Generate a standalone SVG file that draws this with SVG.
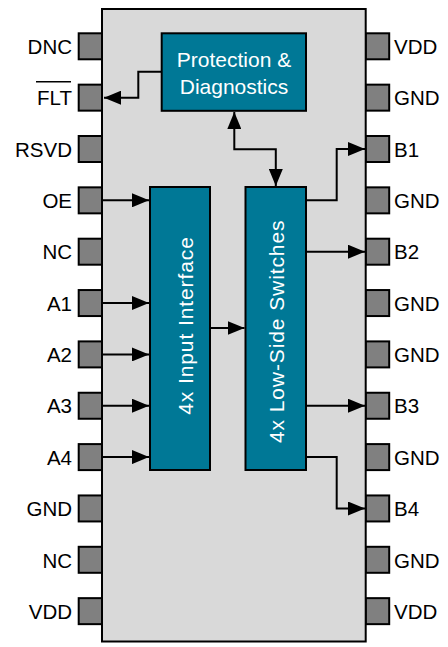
<svg xmlns="http://www.w3.org/2000/svg" width="448" height="647" viewBox="0 0 448 647">
  <style>
    .body { fill: #D9D9D9; stroke: #000; stroke-width: 2; }
    .pin { fill: #808080; stroke: #000; stroke-width: 2; }
    .blk { fill: #007896; stroke: #000; stroke-width: 2; }
    .lbl { font-family: "Liberation Sans", Arial, sans-serif; font-size: 20.5px; fill: #000; }
    .lbl-l { text-anchor: end; }
    .blkt { font-family: "Liberation Sans", Arial, sans-serif; font-size: 21px; fill: #fff; text-anchor: middle; }
    .rot { letter-spacing: 0.9px; }
    .wire { fill: none; stroke: #000; stroke-width: 2; }
  </style>
  <defs>
    <marker id="ah" markerUnits="userSpaceOnUse" markerWidth="18" markerHeight="14" refX="17" refY="7" orient="auto-start-reverse" viewBox="0 0 18 14">
      <path d="M0,0 L17,7 L0,14 z" fill="#000"/>
    </marker>
  </defs>

  <g id="pins-left">
    <rect class="pin" x="78.7" y="33.3" width="23.3" height="26"/>
    <rect class="pin" x="78.7" y="84.65" width="23.3" height="26"/>
    <rect class="pin" x="78.7" y="136" width="23.3" height="26"/>
    <rect class="pin" x="78.7" y="187.35" width="23.3" height="26"/>
    <rect class="pin" x="78.7" y="238.7" width="23.3" height="26"/>
    <rect class="pin" x="78.7" y="290.05" width="23.3" height="26"/>
    <rect class="pin" x="78.7" y="341.4" width="23.3" height="26"/>
    <rect class="pin" x="78.7" y="392.75" width="23.3" height="26"/>
    <rect class="pin" x="78.7" y="444.1" width="23.3" height="26"/>
    <rect class="pin" x="78.7" y="495.45" width="23.3" height="26"/>
    <rect class="pin" x="78.7" y="546.8" width="23.3" height="26"/>
    <rect class="pin" x="78.7" y="598.15" width="23.3" height="26"/>
  </g>
  <g id="pins-right">
    <rect class="pin" x="365.7" y="33.3" width="23.5" height="26"/>
    <rect class="pin" x="365.7" y="84.65" width="23.5" height="26"/>
    <rect class="pin" x="365.7" y="136" width="23.5" height="26"/>
    <rect class="pin" x="365.7" y="187.35" width="23.5" height="26"/>
    <rect class="pin" x="365.7" y="238.7" width="23.5" height="26"/>
    <rect class="pin" x="365.7" y="290.05" width="23.5" height="26"/>
    <rect class="pin" x="365.7" y="341.4" width="23.5" height="26"/>
    <rect class="pin" x="365.7" y="392.75" width="23.5" height="26"/>
    <rect class="pin" x="365.7" y="444.1" width="23.5" height="26"/>
    <rect class="pin" x="365.7" y="495.45" width="23.5" height="26"/>
    <rect class="pin" x="365.7" y="546.8" width="23.5" height="26"/>
    <rect class="pin" x="365.7" y="598.15" width="23.5" height="26"/>
  </g>

  <g id="package">
    <rect class="body" x="102" y="9" width="263.7" height="632.5"/>
  </g>

  <g id="labels-left" class="lbl lbl-l">
    <text x="72" y="54">DNC</text>
    <text x="72" y="105.4">FLT</text>
    <text x="72" y="156.7">RSVD</text>
    <text x="72" y="208">OE</text>
    <text x="72" y="259.4">NC</text>
    <text x="72" y="310.7">A1</text>
    <text x="72" y="362.1">A2</text>
    <text x="72" y="413.4">A3</text>
    <text x="72" y="464.8">A4</text>
    <text x="72" y="516.1">GND</text>
    <text x="72" y="567.5">NC</text>
    <text x="72" y="618.8">VDD</text>
  </g>
  <line x1="36" y1="81.7" x2="71" y2="81.7" stroke="#000" stroke-width="1.5"/>
  <g id="labels-right" class="lbl">
    <text x="394" y="54">VDD</text>
    <text x="394" y="105.4">GND</text>
    <text x="394" y="156.7">B1</text>
    <text x="394" y="208">GND</text>
    <text x="394" y="259.4">B2</text>
    <text x="394" y="310.7">GND</text>
    <text x="394" y="362.1">GND</text>
    <text x="394" y="413.4">B3</text>
    <text x="394" y="464.8">GND</text>
    <text x="394" y="516.1">B4</text>
    <text x="394" y="567.5">GND</text>
    <text x="394" y="618.8">VDD</text>
  </g>

  <g id="protection">
    <rect class="blk" x="161.7" y="33.3" width="144.3" height="77.5"/>
    <text class="blkt" x="234" y="66.5">Protection &amp;</text>
    <text class="blkt" x="234" y="93.5">Diagnostics</text>
  </g>
  <g id="input-interface">
    <rect class="blk" x="150" y="187" width="60" height="283"/>
    <text class="blkt rot" transform="translate(192.5,325.5) rotate(-90)" x="0" y="0">4x Input Interface</text>
  </g>
  <g id="low-side-switches">
    <rect class="blk" x="245.5" y="187" width="60.5" height="283"/>
    <text class="blkt rot" transform="translate(284,331.3) rotate(-90)" x="0" y="0">4x Low-Side Switches</text>
  </g>

  <g id="connectors">
    <path class="wire" d="M161.7,71.7 H138.3 V97.7 H104" marker-end="url(#ah)"/>
    <path class="wire" d="M234.3,112 V149.3 H275.8 V186" marker-start="url(#ah)" marker-end="url(#ah)"/>
    <path class="wire" d="M103,200.3 H149" marker-end="url(#ah)"/>
    <path class="wire" d="M103,303 H149" marker-end="url(#ah)"/>
    <path class="wire" d="M103,354.4 H149" marker-end="url(#ah)"/>
    <path class="wire" d="M103,405.7 H149" marker-end="url(#ah)"/>
    <path class="wire" d="M103,457.1 H149" marker-end="url(#ah)"/>
    <path class="wire" d="M211,328 H244.5" marker-end="url(#ah)"/>
    <path class="wire" d="M306,200.3 H336.7 V149 H365" marker-end="url(#ah)"/>
    <path class="wire" d="M306,251.7 H365" marker-end="url(#ah)"/>
    <path class="wire" d="M306,405.7 H365" marker-end="url(#ah)"/>
    <path class="wire" d="M306,457.1 H336.7 V508.5 H365" marker-end="url(#ah)"/>
  </g>
</svg>
